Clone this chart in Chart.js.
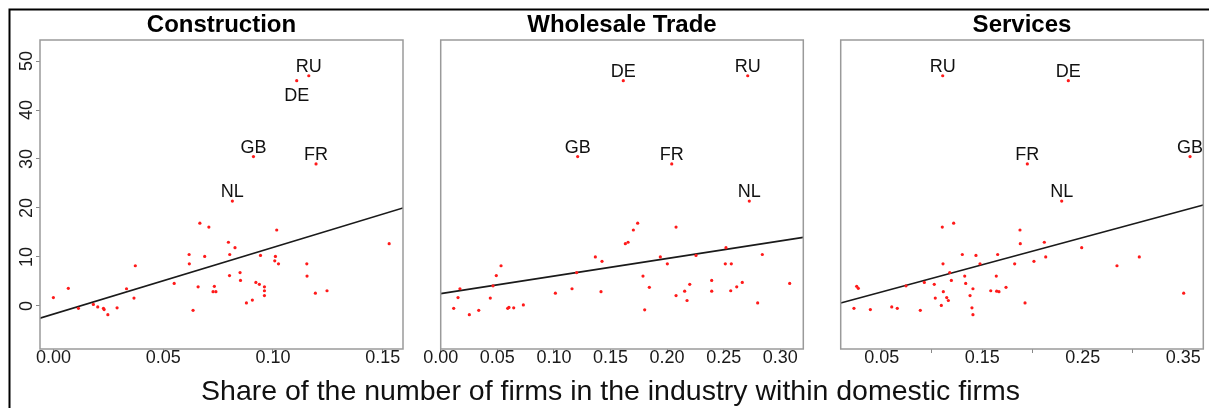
<!DOCTYPE html>
<html>
<head>
<meta charset="utf-8">
<title>Share of firms within domestic firms</title>
<script src="https://cdn.jsdelivr.net/npm/chart.js@4.4.1/dist/chart.umd.min.js"></script>
<style>
  html, body { margin: 0; padding: 0; background: #fff; }
  #wrap { position: relative; width: 1209px; height: 408px; }
  .panel { position: absolute; left: 0; top: 0; width: 1209px; height: 408px; }
</style>
</head>
<body>
<div id="wrap">
  <div class="panel"><canvas id="construction"></canvas></div>
  <div class="panel"><canvas id="wholesale"></canvas></div>
  <div class="panel"><canvas id="services"></canvas></div>
</div>
<script>
// ---- data ----
const yRange = [-8.8, 54.3];
const yTicks = [0, 10, 20, 30, 40, 50];

// labelled countries (same y in every panel)
const labelNames = ['RU', 'DE', 'GB', 'FR', 'NL'];
const labelY = [47.0, 46.0, 30.5, 29.0, 21.4];

// Construction
const constructionRange = [-0.0061, 0.1592];
const constructionTicks = [0, 0.05, 0.10, 0.15];
const constructionTickLabels = ['0.00', '0.05', '0.10', '0.15'];
const constructionX = [0.000, 0.0068, 0.0114, 0.0182, 0.0202, 0.0228, 0.0231, 0.0248, 0.0290, 0.0333,
  0.0367, 0.0373, 0.0550, 0.0618, 0.0619, 0.0636, 0.0659, 0.0667, 0.0689, 0.0708, 0.0727, 0.0733,
  0.0740, 0.0797, 0.0802, 0.0803, 0.0827, 0.0850, 0.0852, 0.0879, 0.0906, 0.0922, 0.0938, 0.0943,
  0.0961, 0.0961, 0.0961, 0.1008, 0.1011, 0.1017, 0.1025, 0.1154, 0.1155, 0.1193, 0.1246, 0.1529];
const constructionY = [1.7, 3.6, -0.5, 0.3, -0.2, -0.5, -0.75, -1.8, -0.4, 3.5,
  1.6, 8.2, 4.6, 10.5, 8.6, -0.9, 3.9, 16.9, 10.1, 16.1, 2.9, 4.0,
  2.9, 13.0, 6.2, 10.5, 11.9, 6.8, 5.2, 0.6, 1.2, 4.8, 4.4, 10.3,
  3.9, 3.1, 2.1, 9.2, 10.1, 15.5, 8.6, 8.6, 6.1, 2.6, 3.1, 12.7];
const constructionLabelX = [0.1163, 0.1108, 0.0911, 0.1196, 0.0815];
const constructionFitX = [-0.0061, 0.1592];
const constructionFitY = [-2.5, 20.0];

// Wholesale Trade
const wholesaleRange = [0, 0.3203];
const wholesaleTicks = [0, 0.05, 0.10, 0.15, 0.20, 0.25, 0.30];
const wholesaleTickLabels = ['0.00', '0.05', '0.10', '0.15', '0.20', '0.25', '0.30'];
const wholesaleX = [0.0115, 0.0153, 0.0170, 0.0253, 0.0336, 0.0438, 0.0462, 0.0491, 0.0533, 0.0592,
  0.0603, 0.0645, 0.0730, 0.1013, 0.1160, 0.1201, 0.1366, 0.1416, 0.1425, 0.1631, 0.1655, 0.1702,
  0.1740, 0.1787, 0.1802, 0.1843, 0.1940, 0.2002, 0.2079, 0.2079, 0.2155, 0.2176, 0.2200, 0.2255,
  0.2394, 0.2394, 0.2514, 0.2520, 0.2562, 0.2567, 0.2615, 0.2664, 0.2800, 0.2841, 0.3083];
const wholesaleY = [-0.5, 1.7, 3.5, -1.8, -0.9, 1.6, 4.1, 6.2, 8.2, -0.5,
  -0.3, -0.4, 0.2, 2.6, 3.5, 6.8, 10.0, 2.9, 9.1, 12.7, 13.0, 15.5,
  16.9, 6.1, -0.8, 3.8, 10.0, 8.6, 16.1, 2.1, 3.0, 1.1, 4.4, 10.3,
  5.2, 3.0, 8.6, 11.9, 3.1, 8.6, 3.9, 4.8, 0.6, 10.5, 4.6];
const wholesaleLabelX = [0.2712, 0.1613, 0.1210, 0.2041, 0.2726];
const wholesaleFitX = [0, 0.3203];
const wholesaleFitY = [2.5, 14.0];

// Services
const servicesRange = [0.0092, 0.3700];
const servicesTicks = [0.05, 0.10, 0.15, 0.20, 0.25, 0.30, 0.35];
const servicesTickLabels = ['0.05', '', '0.15', '', '0.25', '', '0.35'];
const servicesX = [0.0224, 0.0251, 0.0267, 0.0387, 0.0600, 0.0655, 0.0742, 0.0884, 0.0924, 0.1023,
  0.1033, 0.1093, 0.1103, 0.1110, 0.1113, 0.1147, 0.1163, 0.1177, 0.1193, 0.1216, 0.1302, 0.1326,
  0.1336, 0.1379, 0.1398, 0.1408, 0.1408, 0.1438, 0.1478, 0.1585, 0.1640, 0.1644, 0.1654, 0.1667,
  0.1737, 0.1823, 0.1876, 0.1879, 0.1926, 0.2015, 0.2118, 0.2132, 0.2490, 0.2841, 0.3063, 0.3505];
const servicesY = [-0.5, 4.0, 3.6, -0.75, -0.2, -0.5, 4.1, -0.9, 4.8, 4.4,
  1.6, 0.1, 16.1, 8.6, 2.9, 1.7, 1.1, 6.8, 5.2, 16.9, 10.5, 6.1,
  4.6, 2.1, -0.4, 3.5, -1.8, 10.3, 8.6, 3.1, 6.1, 3.0, 10.5, 2.9,
  3.8, 8.6, 15.5, 12.7, 0.6, 9.1, 13.0, 10.0, 11.9, 8.2, 10.0, 2.6];
const servicesLabelX = [0.1107, 0.2357, 0.3568, 0.1949, 0.2291];
const servicesFitX = [0.0092, 0.3700];
const servicesFitY = [0.6, 20.6];

const xTitle = 'Share of the number of firms in the industry within domestic firms';
const FONT = '"Liberation Sans", Arial, Helvetica, sans-serif';
Chart.defaults.font.family = FONT;

// draws the plot frame, country labels, rotated y ticks and the figure decorations
const decorPlugin = {
  id: 'decor',
  afterDatasetsDraw(chart, args, opts) {
    const ctx = chart.ctx;
    const a = chart.chartArea;
    const x = chart.scales.x;
    const y = chart.scales.y;
    ctx.save();

    ctx.strokeStyle = '#9a9a9a';
    ctx.lineWidth = 1.5;
    ctx.strokeRect(a.left, a.top, a.right - a.left, a.bottom - a.top);

    ctx.font = '18px ' + FONT;
    ctx.fillStyle = '#111';
    ctx.textAlign = 'center';
    ctx.textBaseline = 'alphabetic';
    opts.names.forEach((name, i) => {
      const px = x.getPixelForValue(opts.xs[i]);
      const py = y.getPixelForValue(opts.ys[i]);
      const below = opts.below.includes(name);
      ctx.fillText(name, px, below ? py + 20.5 : py - 4);
    });

    if (opts.yLabels) {
      ctx.font = '18px ' + FONT;
      ctx.fillStyle = '#1a1a1a';
      ctx.textBaseline = 'middle';
      yTicks.forEach(v => {
        ctx.save();
        ctx.translate(27, y.getPixelForValue(v));
        ctx.rotate(-Math.PI / 2);
        ctx.fillText(String(v), 0, 0);
        ctx.restore();
      });
    }

    if (opts.figure) {
      ctx.strokeStyle = '#000';
      ctx.lineWidth = 2;
      ctx.beginPath();
      ctx.moveTo(9.5, chart.height);
      ctx.lineTo(9.5, 9.5);
      ctx.lineTo(chart.width, 9.5);
      ctx.stroke();

      ctx.font = '28.5px ' + FONT;
      ctx.fillStyle = '#111';
      ctx.textAlign = 'center';
      ctx.textBaseline = 'alphabetic';
      ctx.fillText(xTitle, 610.5, 400);
    }
    ctx.restore();
  }
};

function makePanel(id, p) {
  const points = p.xs.map((v, i) => ({ x: v, y: p.ys[i] }))
    .concat(p.labelX.map((v, i) => ({ x: v, y: labelY[i] })));
  const fit = p.fitX.map((v, i) => ({ x: v, y: p.fitY[i] }));

  return new Chart(document.getElementById(id), {
    type: 'scatter',
    data: {
      datasets: [
        {
          data: points,
          pointRadius: 1.6,
          pointBackgroundColor: '#ff1a1a',
          pointBorderWidth: 0
        },
        {
          data: fit,
          showLine: true,
          borderColor: '#1a1a1a',
          borderWidth: 1.6,
          pointRadius: 0
        }
      ]
    },
    options: {
      responsive: true,
      maintainAspectRatio: false,
      animation: false,
      events: [],
      layout: { padding: { left: p.left, right: 1209 - p.right, top: 9, bottom: 0 } },
      plugins: {
        legend: { display: false },
        tooltip: { enabled: false },
        title: {
          display: true,
          text: p.title,
          color: '#000',
          font: { size: 24, weight: 'bold' },
          padding: { top: 2, bottom: 0.2 }
        },
        decor: {
          names: labelNames,
          xs: p.labelX,
          ys: labelY,
          below: p.below,
          yLabels: p.yAxis,
          figure: p.figure
        }
      },
      scales: {
        x: {
          type: 'linear',
          min: p.range[0],
          max: p.range[1],
          afterBuildTicks: s => { s.ticks = p.ticks.map(v => ({ value: v })); },
          // keep the axis box tall enough so Chart.js does not clip the tick labels
          afterFit: s => { s.height = 59; s.paddingLeft = 0; s.paddingRight = 0; },
          ticks: {
            callback: (v, i) => p.tickLabels[i],
            autoSkip: false,
            maxRotation: 0,
            minRotation: 0,
            color: '#1a1a1a',
            font: { size: 18 },
            padding: -5.5
          },
          grid: { drawOnChartArea: false, drawTicks: true, tickLength: 4, color: '#888' },
          border: { display: false }
        },
        y: {
          type: 'linear',
          display: p.yAxis,
          min: yRange[0],
          max: yRange[1],
          afterBuildTicks: s => { s.ticks = yTicks.map(v => ({ value: v })); },
          afterFit: s => { s.width = 0; s.paddingTop = 0; s.paddingBottom = 0; },
          ticks: { display: false },
          grid: { drawOnChartArea: false, drawTicks: true, tickLength: 4, color: '#888' },
          border: { display: false }
        }
      }
    },
    plugins: [decorPlugin]
  });
}

makePanel('construction', {
  title: 'Construction', left: 40, right: 403,
  range: constructionRange, ticks: constructionTicks, tickLabels: constructionTickLabels,
  xs: constructionX, ys: constructionY, labelX: constructionLabelX,
  fitX: constructionFitX, fitY: constructionFitY,
  below: ['DE'], yAxis: true, figure: true
});

makePanel('wholesale', {
  title: 'Wholesale Trade', left: 440.7, right: 803.3,
  range: wholesaleRange, ticks: wholesaleTicks, tickLabels: wholesaleTickLabels,
  xs: wholesaleX, ys: wholesaleY, labelX: wholesaleLabelX,
  fitX: wholesaleFitX, fitY: wholesaleFitY,
  below: [], yAxis: false, figure: false
});

makePanel('services', {
  title: 'Services', left: 840.7, right: 1203.3,
  range: servicesRange, ticks: servicesTicks, tickLabels: servicesTickLabels,
  xs: servicesX, ys: servicesY, labelX: servicesLabelX,
  fitX: servicesFitX, fitY: servicesFitY,
  below: [], yAxis: false, figure: false
});
</script>
</body>
</html>
